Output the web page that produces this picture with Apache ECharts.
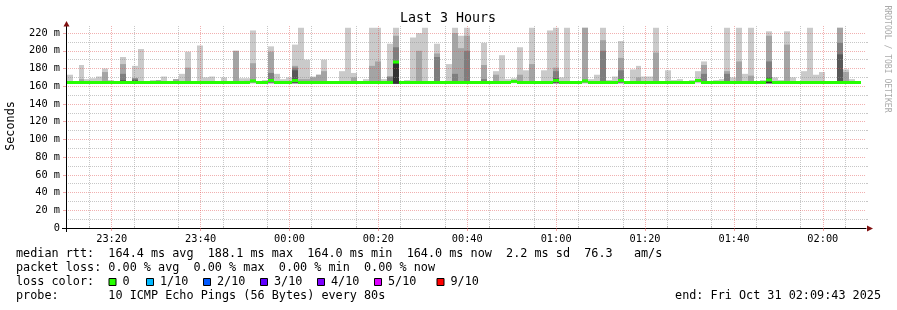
<!DOCTYPE html>
<html><head><meta charset="utf-8">
<script src="https://cdn.jsdelivr.net/npm/echarts@6/dist/echarts.min.js"></script>
<style>html,body{margin:0;padding:0;background:#fff}#c{width:897px;height:310px}</style>
</head><body><div id="c"></div>
<script>
const _ = null;
// time in minutes after 23:00
const axisStart = 9 + 43 / 60;          // 23:09:43
const axisEnd = axisStart + 180;         // 02:09:43
const stepStart = 9.87;
const stepMinutes = 80 / 60;
const majorTimes = [20, 40, 60, 80, 100, 120, 140, 160, 180];
const minorTimes = [15, 25, 35, 45, 55, 65, 75, 85, 95, 105, 115, 125, 135, 145, 155, 165, 175, 185];
const majorRtt = [0, 20, 40, 60, 80, 100, 120, 140, 160, 180, 200, 220];
const minorRtt = [10, 30, 50, 70, 90, 110, 130, 150, 170, 190, 210];

// smoke layers (ms); null = layer not visible in that step
const smokeFloor = [
163.4,163.4,163.4,163.4,163.4,163.4,163.4,163.4,163.4,163.4,
163.4,163.4,163.4,163.4,163.4,163.4,163.4,163.4,163.4,163.4,
163.4,163.4,163.4,163.4,163.4,163.4,163.4,163.4,163.4,163.4,
163.4,163.4,163.4,163.4,163.4,163.4,163.4,163.4,163.4,163.4,
163.4,163.4,163.4,163.4,163.4,163.4,163.4,163.4,163.4,163.4,
163.4,163.4,163.4,163.4,163.4,162.8,163.4,163.4,163.4,163.4,
163.4,163.4,163.4,163.4,163.4,163.4,163.4,163.4,163.4,163.4,
163.4,163.4,163.4,163.4,163.4,163.4,163.4,163.4,163.4,163.4,
163.4,163.4,163.4,163.4,163.4,163.4,163.4,163.4,163.4,163.4,
163.4,163.4,163.4,163.4,163.4,163.4,163.4,163.4,163.4,163.4,
163.4,163.4,163.4,163.4,163.4,163.4,163.4,163.4,163.4,163.4,
163.4,163.4,163.4,163.4,163.4,163.4,163.4,163.4,163.4,163.4,
163.4,163.4,163.4,163.4,163.4,163.4,163.4,163.4,163.4,163.4,
163.4,163.4,163.4,163.4];
const smokeL1 = [
173,166,184,168,169,171,180,167,166,193,
165,183,202,166,167,167,171,166,168,174,
199,166,206,170,171,166,170,166,200,169,
169,223,166,167,205,174,168,170,207,226,
190,171,173,190,165,165,177,226,175,165,
168,226,226,168,208,226,165,167,215,220,
226,165,208,165,185,226,217,226,166,166,
209,165,177,195,168,169,204,178,226,165,
178,223,226,170,226,165,165,226,168,173,
226,167,171,211,165,179,183,171,171,226,
165,178,167,168,165,167,177,188,165,167,
168,226,170,226,174,226,165,167,222,170,
167,222,170,165,177,226,173,176,165,165,
226,179,168,165];
const smokeL2 = [
_,_,168,_,_,_,176,_,_,185,
_,_,_,_,_,167,_,_,168,_,
181,_,_,_,_,_,_,_,200,_,
_,186,_,_,199,_,_,_,183,168,
168,170,173,177,_,_,_,_,170,_,
_,183,188,_,_,217,_,_,_,200,
_,_,197,_,_,220,203,217,_,_,
184,_,173,_,_,_,173,_,185,_,
_,_,181,_,_,_,_,226,_,_,
212,_,_,192,_,_,170,_,_,198,
_,_,_,_,_,_,_,184,_,_,
_,177,_,188,_,172,_,_,217,_,
_,207,_,_,_,_,_,_,_,_,
226,176,_,_];
const smokeL3 = [
_,_,_,_,_,_,_,_,_,174,
_,169,_,_,_,_,_,_,_,_,
_,_,_,_,_,_,_,_,_,_,
_,_,_,_,175,_,_,_,181,_,
_,_,_,_,_,_,_,_,_,_,
_,_,_,_,171,204,_,_,_,_,
_,_,193,_,_,174,_,200,_,_,
168,_,_,_,_,_,_,_,_,_,
_,_,177,_,_,_,_,_,_,_,
200,_,_,178,_,_,_,_,_,_,
_,_,_,_,_,_,_,174,_,_,
_,174,_,_,_,_,_,_,188,_,
_,_,_,_,_,_,_,_,_,_,
209,_,_,_];
const smokeL4 = [
_,_,_,_,_,_,_,_,_,167,
_,167,_,_,_,_,_,_,_,_,
_,_,_,_,_,_,_,_,_,_,
166,_,_,_,_,_,_,_,178,_,
_,_,_,_,_,_,_,_,_,_,
_,_,_,_,_,_,_,_,_,_,
_,_,_,_,_,_,_,_,_,_,
_,_,_,_,_,_,_,_,_,_,
_,_,169,_,_,_,_,_,_,_,
_,_,_,_,_,_,_,_,_,_,
_,_,_,_,_,_,_,_,_,_,
_,_,_,_,_,_,_,_,170,_,
_,_,_,_,_,_,_,_,_,_,
196,_,_,_];
const smokeL5 = [
_,_,_,_,_,_,_,_,_,_,
_,_,_,_,_,_,_,_,_,_,
_,_,_,_,_,_,_,_,_,_,
_,_,_,_,_,_,_,_,_,_,
_,_,_,_,_,_,_,_,_,_,
_,_,_,_,_,187,_,_,_,_,
_,_,_,_,_,_,_,_,_,_,
_,_,_,_,_,_,_,_,_,_,
_,_,_,_,_,_,_,_,_,_,
_,_,_,_,_,_,_,_,_,_,
_,_,_,_,_,_,_,_,_,_,
_,_,_,_,_,_,_,_,168,_,
_,_,_,_,_,_,_,_,_,_,
_,_,_,_];
const medianRtt = [
164.2,164.2,164.2,164.2,164.2,164.2,164.2,164.2,164.2,164.2,
164.2,164.2,164.2,164.2,164.2,164.2,164.2,164.2,164.2,164.2,
164.2,164.2,164.2,164.2,164.2,164.2,164.2,164.2,164.2,164.2,
164.2,166,164.2,164.2,166.5,164.2,164.2,164.2,166.5,164.2,
164.2,164.2,164.2,164.2,164.2,164.2,164.2,164.2,164.2,164.2,
164.2,164.2,164.2,164.2,164.2,187.3,164.2,164.2,164.2,164.2,
164.2,164.2,164.2,164.2,164.2,164.2,164.2,164.2,164.2,164.2,
164.2,164.2,164.2,164.2,164.2,165.5,164.2,164.2,164.2,164.2,
164.2,164.2,166.5,164.2,164.2,164.2,164.2,166,164.2,164.2,
164.2,164.2,164.2,166.5,164.2,164.2,164.2,164.2,164.2,164.2,
164.2,164.2,164.2,164.2,164.2,164.2,166.5,164.2,164.2,164.2,
164.2,164.2,164.2,164.2,164.2,164.2,164.2,164.2,167,164.2,
164.2,164.2,164.2,164.2,164.2,164.2,164.2,164.2,164.2,164.2,
164.2,164.2,164.2,164.2];

const lossLabels = ['0', '1/10', '2/10', '3/10', '4/10', '5/10', '9/10'];
const lossColors = ['#26ff00', '#00b8ff', '#0059ff', '#5e00ff', '#7e00ff', '#dd00ff', '#ff0000'];
const lossBoxX = [108.5, 146, 203, 260, 317, 374, 436.5];
const legendLines = [
  'median rtt:  164.4 ms avg  188.1 ms max  164.0 ms min  164.0 ms now  2.2 ms sd  76.3   am/s',
  'packet loss: 0.00 % avg  0.00 % max  0.00 % min  0.00 % now',
  'loss color:',
  'probe:       10 ICMP Echo Pings (56 Bytes) every 80s'
];
const endText = 'end: Fri Oct 31 02:09:43 2025';

const smokeColors = ['#cacaca', '#a4a4a4', '#7e7e7e', '#585858', '#323232'];
const MONO = '"DejaVu Sans Mono", monospace';
const stepTimes = smokeL1.map((_v, i) => stepStart + i * stepMinutes);

function pad(n) { return (n < 10 ? '0' : '') + n; }
function fmtTime(v) {
  const tot = Math.round(v) + 23 * 60;
  return pad(Math.floor(tot / 60) % 24) + ':' + pad(tot % 60);
}
function rectRenderer(color) {
  return function (params, api) {
    const t = api.value(0), lo = api.value(1), hi = api.value(2);
    const a = api.coord([t, lo]);
    const b = api.coord([t + stepMinutes, hi]);
    const x0 = Math.round(a[0]), x1 = Math.round(b[0]);
    return { type: 'rect', shape: { x: x0, y: b[1], width: x1 - x0, height: a[1] - b[1] },
             style: { fill: color } };
  };
}
function layerData(arr) {
  const out = [];
  arr.forEach((v, i) => { if (v != null) out.push([stepTimes[i], smokeFloor[i], v]); });
  return out;
}

const layers = [smokeL1, smokeL2, smokeL3, smokeL4, smokeL5];
const series = layers.map((arr, k) => ({
  type: 'custom', xAxisIndex: 0, yAxisIndex: 0, z: 2 + k * 0.01, clip: true,
  renderItem: rectRenderer(smokeColors[k]),
  encode: { x: 0, y: [1, 2] },
  data: layerData(arr),
  silent: true
}));
series.push({
  type: 'custom', xAxisIndex: 0, yAxisIndex: 0, z: 10, clip: true,
  renderItem: rectRenderer(lossColors[0]),
  encode: { x: 0, y: [1, 2] },
  data: medianRtt.map((m, i) => [stepTimes[i], m - 1.7, m + 1.7]),
  silent: true
});

const GL = 66, GT = 26, GR = 866, GB = 228;
const LEG_FS = 11.8;
const graphics = [
  { type: 'text', style: { text: 'Last 3 Hours', x: 448, y: 19, align: 'center', verticalAlign: 'middle',
      fontFamily: MONO, fontSize: 13.3, fill: '#000' } },
  { type: 'text', rotation: Math.PI / 2, x: 11, y: 126, style: { text: 'Seconds', x: 0, y: 0, align: 'center', verticalAlign: 'middle',
      fontFamily: MONO, fontSize: 11.8, fill: '#000' } },
  { type: 'text', rotation: -Math.PI / 2, x: 887, y: 59, style: { text: 'RRDTOOL / TOBI OETIKER', x: 0, y: 0, align: 'center', verticalAlign: 'middle',
      fontFamily: MONO, fontSize: 8.1, fill: '#aaaaaa' } },
  { type: 'line', z: 99, shape: { x1: GL - 4, y1: GB + 0.5, x2: GL, y2: GB + 0.5 }, style: { stroke: '#000', lineWidth: 1 } },
  { type: 'line', z: 99, shape: { x1: GL + 0.5, y1: GB, x2: GL + 0.5, y2: GB + 4 }, style: { stroke: '#000', lineWidth: 1 } },
  { type: 'polygon', z: 100, shape: { points: [[GL + 0.5, GT - 5], [GL - 2.5, GT + 0.5], [GL + 3.5, GT + 0.5]] }, style: { fill: '#801010' } },
  { type: 'polygon', z: 100, shape: { points: [[GR + 7, GB + 0.5], [GR + 1, GB - 2.5], [GR + 1, GB + 3.5]] }, style: { fill: '#801010' } }
];
const lineY = [254.3, 268.3, 282.3, 296.3];
legendLines.forEach((t, i) => graphics.push({ type: 'text', style: { text: t, x: 16, y: lineY[i], verticalAlign: 'middle',
  fontFamily: MONO, fontSize: LEG_FS, fill: '#000' } }));
graphics.push({ type: 'text', style: { text: endText, x: 881, y: lineY[3], align: 'right', verticalAlign: 'middle',
  fontFamily: MONO, fontSize: LEG_FS, fill: '#000' } });
lossLabels.forEach((lab, i) => {
  graphics.push({ type: 'rect', shape: { x: lossBoxX[i] + 0.5, y: 278.5, width: 7, height: 7 },
    style: { fill: lossColors[i], stroke: '#000', lineWidth: 1 } });
  graphics.push({ type: 'text', style: { text: lab, x: lossBoxX[i] + 14, y: lineY[2], verticalAlign: 'middle',
    fontFamily: MONO, fontSize: LEG_FS, fill: '#000' } });
});

const chart = echarts.init(document.getElementById('c'), null, { renderer: 'canvas' });
chart.setOption({
  animation: false,
  backgroundColor: '#ffffff',
  grid: { left: GL, top: GT, right: 897 - GR, bottom: 310 - GB, containLabel: false },
  xAxis: [
    { type: 'value', min: axisStart, max: axisEnd, z: 5,
      axisLine: { show: true, lineStyle: { color: '#000', width: 1 } },
      axisTick: { show: true, customValues: majorTimes, length: 3, lineStyle: { color: 'rgba(224,80,80,0.5)' } },
      axisLabel: { show: true, customValues: majorTimes, formatter: fmtTime, margin: 6,
        fontFamily: MONO, fontSize: 10.3, color: '#000' },
      splitLine: { show: true, lineStyle: { color: 'rgba(224,80,80,0.45)', type: [1, 1], width: 1 } } },
    { type: 'value', min: axisStart, max: axisEnd, z: 4,
      axisLine: { show: false }, axisLabel: { show: false, customValues: minorTimes },
      axisTick: { show: true, customValues: minorTimes, length: 2, lineStyle: { color: 'rgba(144,144,144,0.5)' } },
      splitLine: { show: true, lineStyle: { color: 'rgba(144,144,144,0.5)', type: [1, 1], width: 1 } } }
  ],
  yAxis: [
    { type: 'value', min: 0, max: 228, z: 5,
      axisLine: { show: true, lineStyle: { color: '#000', width: 1 } },
      axisTick: { show: true, customValues: majorRtt, length: 3, lineStyle: { color: 'rgba(224,80,80,0.5)' } },
      axisLabel: { show: true, customValues: majorRtt, margin: 6,
        formatter: v => (v === 0 ? '0' : v + ' m'), fontFamily: MONO, fontSize: 10.3, color: '#000' },
      splitLine: { show: true, lineStyle: { color: 'rgba(224,80,80,0.45)', type: [1, 1], width: 1 } } },
    { type: 'value', min: 0, max: 228, z: 4,
      axisLine: { show: false }, axisLabel: { show: false, customValues: minorRtt },
      axisTick: { show: true, customValues: minorRtt, length: 2, lineStyle: { color: 'rgba(144,144,144,0.5)' } },
      splitLine: { show: true, lineStyle: { color: 'rgba(144,144,144,0.5)', type: [1, 1], width: 1 } } }
  ],
  series: series,
  graphic: graphics
});
</script></body></html>
